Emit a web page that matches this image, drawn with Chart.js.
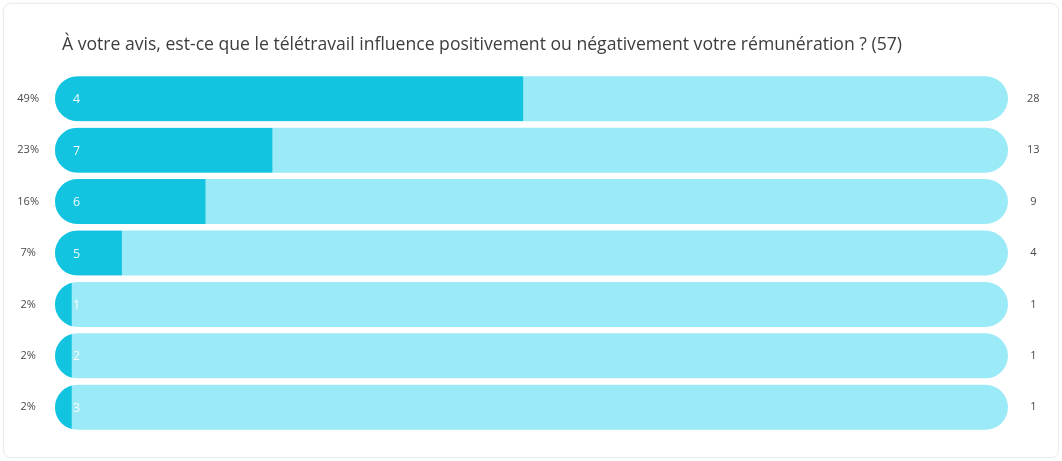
<!DOCTYPE html>
<html>
<head>
<meta charset="utf-8">
<script src="https://cdn.jsdelivr.net/npm/chart.js@4"></script>
<style>
  html, body { margin: 0; padding: 0; background: #ffffff; }
  #card { position: absolute; left: 3px; top: 3px; width: 1054px; height: 453px;
          border: 1px solid #ececec; border-radius: 8px; box-shadow: 0 0 2px rgba(0,0,0,0.06); }
  #wrap { position: absolute; left: 0; top: 0; width: 1062px; height: 461px; }
</style>
</head>
<body>
<div id="card"></div>
<div id="wrap"><canvas id="c" width="1062" height="461"></canvas></div>
<script>
const titleText = "À votre avis, est-ce que le télétravail influence positivement ou négativement votre rémunération ? (57)";
const answerLabels = ["4", "7", "6", "5", "1", "2", "3"];
const counts = [28, 13, 9, 4, 1, 1, 1];
const total = 57;
const percentLabels = ["49%", "23%", "16%", "7%", "2%", "2%", "2%"];
const countLabels = ["28", "13", "9", "4", "1", "1", "1"];
const trackValues = answerLabels.map(() => total);

const DARK = "#13c4e0";
const LIGHT = "#9beaf7";

const clipPlugin = {
  id: 'clipTrack',
  beforeDatasetDraw(chart, args) {
    if (args.index !== 0) return;
    const track = chart.getDatasetMeta(1);
    const ctx = chart.ctx;
    ctx.save();
    ctx.beginPath();
    track.data.forEach(el => {
      const p = el.getProps(['x', 'y', 'base', 'height'], true);
      const left = Math.min(p.base, p.x);
      const w = Math.abs(p.x - p.base);
      ctx.roundRect(left, p.y - p.height / 2, w, p.height, p.height / 2);
    });
    ctx.clip();
  },
  afterDatasetDraw(chart, args) {
    if (args.index !== 0) return;
    chart.ctx.restore();
  }
};

const textPlugin = {
  id: 'texts',
  afterDatasetsDraw(chart) {
    const ctx = chart.ctx;
    const meta = chart.getDatasetMeta(0);
    ctx.save();
    ctx.font = "12.5px 'Open Sans'";
    ctx.fillStyle = "rgba(255,255,255,0.92)";
    ctx.textAlign = "left";
    ctx.textBaseline = "middle";
    meta.data.forEach((el, i) => {
      const p = el.getProps(['y', 'base'], true);
      ctx.fillText(answerLabels[i], p.base + 18, p.y + 1);
    });
    ctx.font = "17.6px 'Open Sans'";
    ctx.fillStyle = "#3d3d3d";
    ctx.fillText(titleText, chart.chartArea.left + 7, 45);
    ctx.restore();
  }
};

new Chart(document.getElementById('c'), {
  type: 'bar',
  data: {
    labels: answerLabels,
    datasets: [
      {
        data: counts,
        backgroundColor: DARK,
        borderWidth: 0,
        borderRadius: 0,
        borderSkipped: false,
        grouped: false,
        order: 0,
        barPercentage: 0.875,
        categoryPercentage: 1
      },
      {
        data: trackValues,
        backgroundColor: LIGHT,
        borderWidth: 0,
        borderRadius: 30,
        borderSkipped: false,
        grouped: false,
        order: 1,
        barPercentage: 0.875,
        categoryPercentage: 1
      }
    ]
  },
  options: {
    indexAxis: 'y',
    responsive: false,
    animation: false,
    events: [],
    layout: { padding: { top: 73, bottom: 28, left: 0, right: 0 } },
    plugins: { legend: { display: false }, tooltip: { enabled: false }, title: { display: false } },
    scales: {
      x: { display: false, min: 0, max: total },
      y: {
        position: 'left',
        grid: { display: false, drawTicks: false },
        border: { display: false },
        ticks: {
          crossAlign: 'center',
          padding: 16,
          color: '#4a4a4a',
          font: { family: "'Open Sans'", size: 11 },
          callback: (v, i) => percentLabels[i]
        },
        afterFit: s => { s.width = 55; }
      },
      y2: {
        type: 'category',
        labels: countLabels,
        position: 'right',
        offset: true,
        grid: { display: false, drawTicks: false },
        border: { display: false },
        ticks: {
          crossAlign: 'center',
          padding: 19,
          color: '#4a4a4a',
          font: { family: "'Open Sans'", size: 11 },
          callback: (v, i) => countLabels[i]
        },
        afterFit: s => { s.width = 54; }
      }
    }
  },
  plugins: [clipPlugin, textPlugin]
});
</script>
</body>
</html>
